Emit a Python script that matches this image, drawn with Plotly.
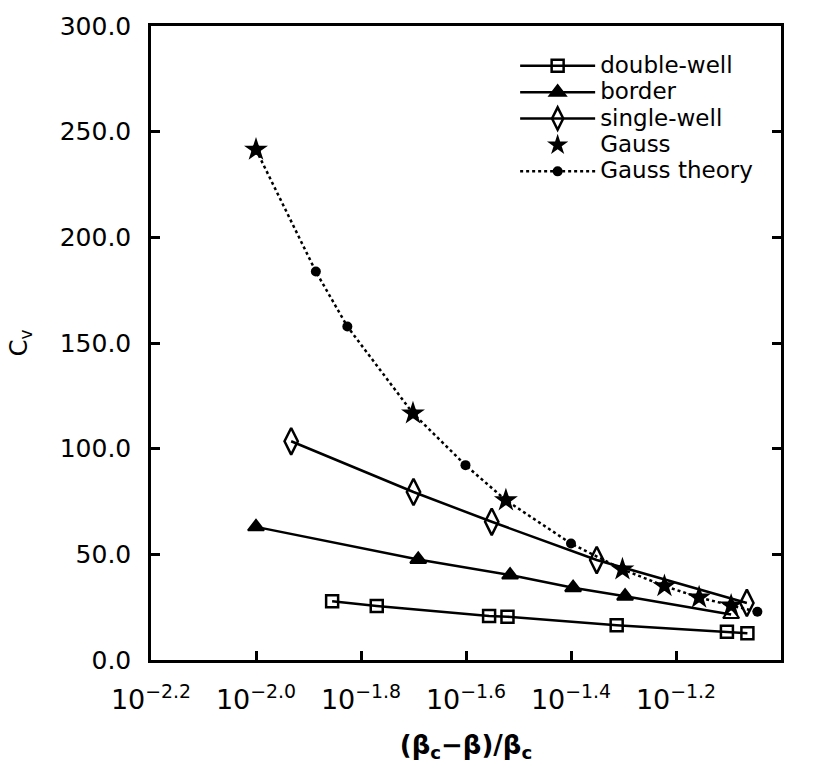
import plotly.graph_objects as go

# exponents of (beta_c - beta)/beta_c, i.e. x = 10**exp
dw_exp = [-1.855, -1.770, -1.556, -1.521, -1.313, -1.103, -1.064]
dw_cv = [27.8, 25.5, 20.8, 20.5, 16.5, 13.4, 12.6]

border_exp = [-2.000, -1.691, -1.516, -1.396, -1.297, -1.095]
border_cv = [63.0, 47.6, 40.2, 34.2, 30.2, 21.5]

sw_exp = [-1.933, -1.700, -1.551, -1.351, -1.065]
sw_cv = [103.5, 79.5, 65.4, 47.3, 27.0]

gauss_exp = [-2.000, -1.701, -1.524, -1.302, -1.222, -1.156, -1.095]
gauss_cv = [241.5, 116.7, 75.6, 42.9, 35.0, 29.6, 25.8]

theory_exp = [-2.000, -1.886, -1.826, -1.701, -1.601, -1.524, -1.400, -1.302,
              -1.222, -1.156, -1.095, -1.045]
theory_cv = [241.5, 183.8, 157.8, 116.7, 92.2, 75.6, 55.1, 42.9, 35.0, 29.6, 25.8, 22.8]

x_tick_exp = [-2.2, -2.0, -1.8, -1.6, -1.4, -1.2, -1.0]
y_ticks = [0, 50, 100, 150, 200, 250, 300]

FONT = "DejaVu Sans"


def xs(exps):
    return [10 ** e for e in exps]


def lbl(t):
    return "<span style='font-size:23px'>" + t + "</span>"


fig = go.Figure()
fig.add_trace(go.Scatter(
    x=xs(dw_exp), y=dw_cv, mode="lines+markers", name=lbl("double-well"),
    line=dict(color="black", width=2.5),
    marker=dict(symbol="square-open", size=12, color="black", line=dict(width=2.5, color="black"))))
fig.add_trace(go.Scatter(
    x=xs(border_exp), y=border_cv, mode="lines+markers", name=lbl("border"),
    line=dict(color="black", width=2.5),
    marker=dict(symbol=["triangle-up"] * (len(border_exp) - 1) + ["triangle-up-open"],
                size=14, color="black", line=dict(width=2, color="black"))))
fig.add_trace(go.Scatter(
    x=xs(sw_exp), y=sw_cv, mode="lines+markers", name=lbl("single-well"),
    line=dict(color="black", width=2.5),
    marker=dict(symbol="diamond-tall-open", size=19, color="black", line=dict(width=2.5, color="black"))))
fig.add_trace(go.Scatter(
    x=xs(gauss_exp), y=gauss_cv, mode="markers", name=lbl("Gauss"),
    marker=dict(symbol="star", size=18, color="black", line=dict(width=0))))
fig.add_trace(go.Scatter(
    x=xs(theory_exp), y=theory_cv, mode="lines+markers", name=lbl("Gauss theory"),
    line=dict(color="black", width=2.5, dash="dot"),
    marker=dict(symbol="circle", size=10, color="black", line=dict(width=0))))

fig.update_layout(
    width=818, height=771,
    margin=dict(l=151, r=37, t=24, b=111),
    paper_bgcolor="white", plot_bgcolor="white",
    font=dict(family=FONT, color="black", size=25),
    showlegend=True,
    legend=dict(x=0.578, y=0.966, xanchor="left", yanchor="top",
                font=dict(family=FONT, size=18, color="black"),
                bgcolor="rgba(0,0,0,0)", borderwidth=0, itemwidth=75,
                tracegroupgap=0),
)

fig.update_xaxes(
    type="log", range=[-2.2, -1.0],
    tickvals=xs(x_tick_exp),
    ticktext=["10<sup>\u2212%.1f</sup>" % abs(e) for e in x_tick_exp],
    ticks="inside", ticklen=9, tickwidth=2.5, tickcolor="black",
    showline=True, linecolor="black", linewidth=2.5, mirror=True,
    showgrid=False, zeroline=False,
    tickfont=dict(family=FONT, size=27),
    ticklabelstandoff=14,
    title=dict(text="<b>(\u03b2<sub>c</sub>\u2212\u03b2)/\u03b2<sub>c</sub></b>",
               font=dict(family=FONT, size=26), standoff=22),
)
fig.update_yaxes(
    range=[0, 300], tickvals=y_ticks, tickformat=".1f",
    ticks="inside", ticklen=9, tickwidth=2.5, tickcolor="black",
    showline=True, linecolor="black", linewidth=2.5, mirror="ticks",
    showgrid=False, zeroline=False,
    tickfont=dict(family=FONT, size=25),
    ticklabelstandoff=12,
    title=dict(text="C<sub>v</sub>", font=dict(family=FONT, size=24), standoff=26),
)

fig.write_html("out.html")
